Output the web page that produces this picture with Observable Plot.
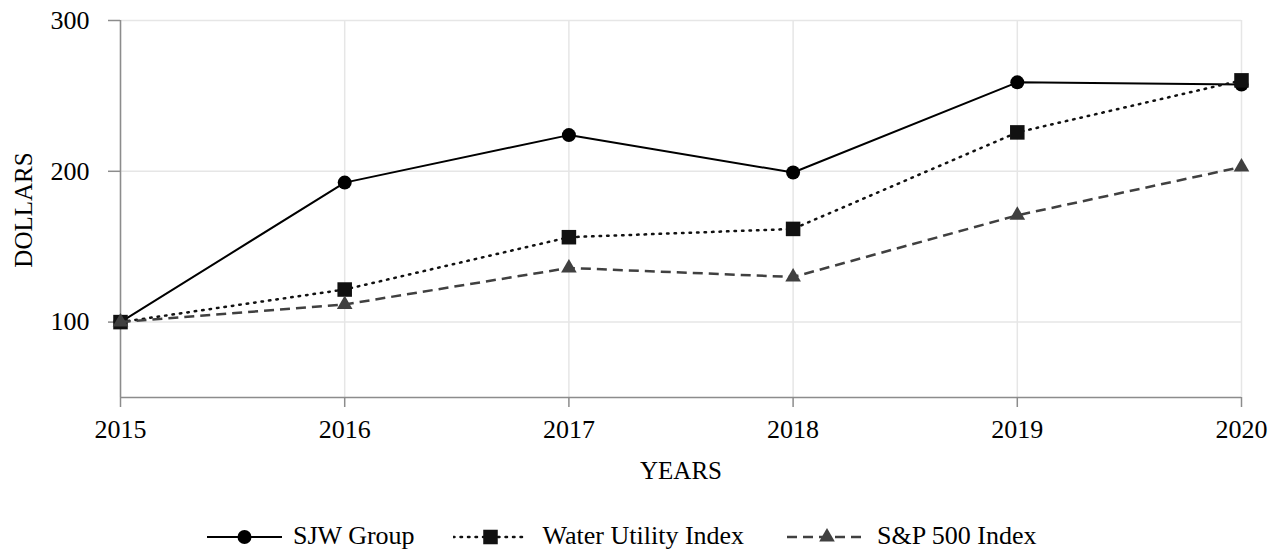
<!DOCTYPE html>
<html>
<head>
<meta charset="utf-8">
<script src="https://cdn.jsdelivr.net/npm/d3@7"></script>
<script src="https://cdn.jsdelivr.net/npm/@observablehq/plot@0.6"></script>
<style>
  html, body { margin: 0; padding: 0; background: #fff; overflow: hidden; }
  #wrap { position: relative; width: 1269px; height: 549px; font-family: "Liberation Serif", "Times New Roman", serif; }
  #legend { position: absolute; left: 207px; top: 522px; height: 28px; display: flex; align-items: center; font-size: 26px; line-height: 22px; color: #000; white-space: nowrap; }
  .item { display: flex; align-items: center; }
  .item span { line-height: 22px; display: block; }
</style>
</head>
<body>
<div id="wrap"><div id="chart"></div><div id="legend"></div></div>
<script>
const years = [2015, 2016, 2017, 2018, 2019, 2020];
const sjwGroup = [100, 192.5, 224, 199.2, 259, 257.5];
const waterUtility = [100, 121.6, 156.3, 161.8, 225.8, 260.3];
const sp500 = [100, 111.7, 135.9, 129.9, 170.8, 202.9];
const seriesNames = ["SJW Group", "Water Utility Index", "S&P 500 Index"];
const yTicks = [100, 200, 300];
const xLabel = "YEARS";
const yLabel = "DOLLARS";

const styles = [
  {color: "#000000", dash: null, width: 2, symbol: "circle", r: 7, keyW: 75, textGap: 11, itemGap: 38},
  {color: "#111111", dash: "1.5,6", width: 2.5, symbol: "square", r: 8.2, keyW: 75, textGap: 15, itemGap: 43},
  {color: "#404040", dash: "10,6", width: 2.5, symbol: "triangle", r: 5.8, keyW: 80, textGap: 10, itemGap: 0}
];
const seriesValues = [sjwGroup, waterUtility, sp500];

const font = '"Liberation Serif", "Times New Roman", serif';

const seriesMarks = seriesValues.flatMap((vals, i) => {
  const rows = years.map((yr, j) => ({year: yr, value: vals[j]}));
  const s = styles[i];
  return [
    Plot.line(rows, {x: "year", y: "value", stroke: s.color, strokeWidth: s.width, strokeDasharray: s.dash ?? undefined, strokeLinecap: s.dash && s.dash.startsWith("1.5") ? "round" : "butt"}),
    Plot.dot(rows, {x: "year", y: "value", symbol: () => s.symbol, r: s.r, fill: s.color, stroke: "none"})
  ];
});

const chart = Plot.plot({
  width: 1269,
  height: 505,
  marginTop: 20,
  marginLeft: 120,
  marginRight: 28,
  marginBottom: 108,
  style: {fontFamily: font, fontSize: "26px", color: "#000", background: "#fff"},
  x: {domain: [2015, 2020]},
  y: {domain: [50, 300]},
  marks: [
    Plot.gridX(years, {stroke: "#e6e6e6", strokeOpacity: 1, strokeWidth: 1.5}),
    Plot.gridY(yTicks, {stroke: "#e6e6e6", strokeOpacity: 1, strokeWidth: 1.5}),
    Plot.ruleX([2015], {stroke: "#8c8c8c", strokeWidth: 1.5}),
    Plot.ruleY([50], {stroke: "#8c8c8c", strokeWidth: 1.5}),
    Plot.axisX(years, {tickFormat: d => String(d), tickSize: 10, tickPadding: 12, stroke: "#8c8c8c", strokeWidth: 1.5, fill: "#000", label: null, fontSize: 26}),
    Plot.axisY(yTicks, {tickSize: 12, tickPadding: 19, stroke: "#8c8c8c", strokeWidth: 1.5, fill: "#000", label: null, fontSize: 26}),
    Plot.text([xLabel], {text: d => d, frameAnchor: "bottom", lineAnchor: "bottom", dy: 81, fontSize: 25, fill: "#000"}),
    Plot.text([yLabel], {text: d => d, frameAnchor: "left", textAnchor: "middle", lineAnchor: "middle", rotate: -90, dx: -97, dy: 1, fontSize: 25, fill: "#000"}),
    ...seriesMarks
  ]
});
document.getElementById("chart").appendChild(chart);

// legend
const legend = document.getElementById("legend");
const ns = "http://www.w3.org/2000/svg";
seriesNames.forEach((name, i) => {
  const s = styles[i];
  const item = document.createElement("div");
  item.className = "item";
  item.style.marginRight = s.itemGap + "px";
  const svg = document.createElementNS(ns, "svg");
  svg.setAttribute("width", s.keyW);
  svg.setAttribute("height", 22);
  const line = document.createElementNS(ns, "line");
  line.setAttribute("x1", 0); line.setAttribute("x2", s.keyW);
  line.setAttribute("y1", 12); line.setAttribute("y2", 12);
  line.setAttribute("stroke", s.color);
  line.setAttribute("stroke-width", s.width);
  if (s.dash) line.setAttribute("stroke-dasharray", s.dash);
  if (s.dash && s.dash.startsWith("1.5")) line.setAttribute("stroke-linecap", "round");
  svg.appendChild(line);
  const sym = d3.symbol(s.symbol === "circle" ? d3.symbolCircle : s.symbol === "square" ? d3.symbolSquare : d3.symbolTriangle, Math.PI * s.r * s.r);
  const path = document.createElementNS(ns, "path");
  path.setAttribute("d", sym());
  path.setAttribute("transform", `translate(${s.keyW / 2},12)`);
  path.setAttribute("fill", s.color);
  svg.appendChild(path);
  item.appendChild(svg);
  const span = document.createElement("span");
  span.style.marginLeft = s.textGap + "px";
  span.textContent = name;
  item.appendChild(span);
  legend.appendChild(item);
});
</script>
</body>
</html>
